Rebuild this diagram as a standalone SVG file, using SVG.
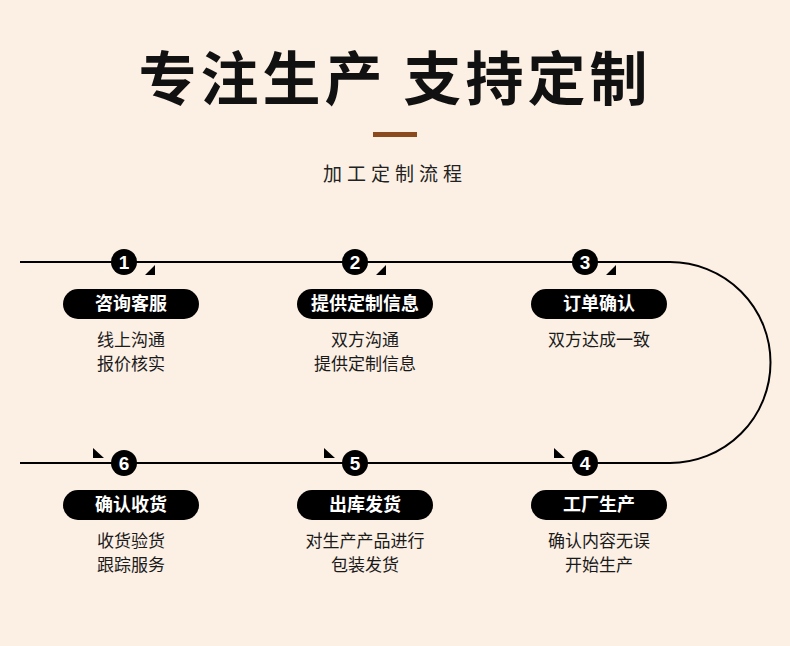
<svg xmlns="http://www.w3.org/2000/svg" width="790" height="646" viewBox="0 0 790 646">
<style>
.t{font-family:"Noto Sans CJK SC",sans-serif}
.pill{fill:#000}
.pt{font-family:"Noto Sans CJK SC",sans-serif;font-size:18px;font-weight:bold;fill:#fff;text-anchor:middle}
.d{font-family:"Noto Sans CJK SC",sans-serif;font-size:17px;fill:#1a1a1a;text-anchor:middle}
.n{font-family:"Liberation Sans",sans-serif;font-size:19px;font-weight:bold;fill:#fff;text-anchor:middle}
</style>
<rect width="790" height="646" fill="#fcf0e5"/>
<text x="395" y="100" class="t" font-size="58" font-weight="bold" text-anchor="middle" fill="#111" letter-spacing="4">专注生产 支持定制</text>
<rect x="373" y="132" width="44" height="5" fill="#8b4a1d"/>
<text x="395" y="181" class="t" font-size="19" text-anchor="middle" fill="#222" letter-spacing="5">加工定制流程</text>
<g id="connectors" fill="none" stroke="#000" stroke-width="2">
<path d="M20 262 H670 A100.5 100.5 0 0 1 670 463 H20"/>
<path d="M145 275 H155 V265 Z M376 275 H386 V265 Z M606 275 H616 V265 Z M93 448 V458 H104 Z M324 448 V458 H335 Z M554 448 V458 H565 Z" fill="#000" stroke="none"/>
</g>
<g id="n1"><circle cx="124" cy="262" r="13"/><text x="124" y="269" class="n">1</text>
<rect x="63" y="289" width="136" height="30" rx="15" class="pill"/><text x="131" y="310" class="pt">咨询客服</text>
<text x="131" y="346" class="d">线上沟通</text><text x="131" y="370" class="d">报价核实</text></g>
<g id="n2"><circle cx="355" cy="262" r="13"/><text x="355" y="269" class="n">2</text>
<rect x="297" y="289" width="136" height="30" rx="15" class="pill"/><text x="365" y="310" class="pt">提供定制信息</text>
<text x="365" y="346" class="d">双方沟通</text><text x="365" y="370" class="d">提供定制信息</text></g>
<g id="n3"><circle cx="585" cy="262" r="13"/><text x="585" y="269" class="n">3</text>
<rect x="531" y="289" width="136" height="30" rx="15" class="pill"/><text x="599" y="310" class="pt">订单确认</text>
<text x="599" y="346" class="d">双方达成一致</text></g>
<g id="n4"><circle cx="585" cy="463" r="13"/><text x="585" y="470" class="n">4</text>
<rect x="531" y="490" width="136" height="30" rx="15" class="pill"/><text x="599" y="511" class="pt">工厂生产</text>
<text x="599" y="547" class="d">确认内容无误</text><text x="599" y="571" class="d">开始生产</text></g>
<g id="n5"><circle cx="355" cy="463" r="13"/><text x="355" y="470" class="n">5</text>
<rect x="297" y="490" width="136" height="30" rx="15" class="pill"/><text x="365" y="511" class="pt">出库发货</text>
<text x="365" y="547" class="d">对生产产品进行</text><text x="365" y="571" class="d">包装发货</text></g>
<g id="n6"><circle cx="124" cy="463" r="13"/><text x="124" y="470" class="n">6</text>
<rect x="63" y="490" width="136" height="30" rx="15" class="pill"/><text x="131" y="511" class="pt">确认收货</text>
<text x="131" y="547" class="d">收货验货</text><text x="131" y="571" class="d">跟踪服务</text></g>
</svg>
